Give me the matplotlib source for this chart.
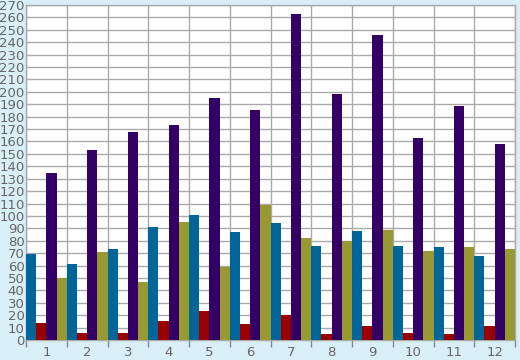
import matplotlib.pyplot as plt
import numpy as np

categories = ['1', '2', '3', '4', '5', '6', '7', '8', '9', '10', '11', '12']
blue = [69, 61, 73, 91, 101, 87, 94, 76, 88, 76, 75, 68]
red = [14, 6, 6, 15, 23, 13, 20, 5, 11, 6, 5, 11]
purple = [135, 153, 168, 173, 195, 185, 263, 198, 246, 163, 189, 158]
olive = [50, 71, 47, 95, 59, 109, 82, 80, 89, 72, 75, 73]

series = [blue, red, purple, olive]
colors = ['#006699', '#990000', '#330066', '#999933']

fig = plt.figure(figsize=(5.2, 3.6), dpi=100, facecolor='#d9eff7')
ax = fig.add_axes([26 / 520, 20 / 360, 489 / 520, 335 / 360])
ax.set_facecolor('white')

x = np.arange(len(categories))
w = 0.25
for k, (vals, c) in enumerate(zip(series, colors)):
    ax.bar(x - 0.375 + k * w, vals, width=w, color=c, zorder=3, linewidth=0)

ax.set_xlim(-0.5, len(categories) - 0.5)
ax.set_ylim(0, 270)
ax.set_yticks(np.arange(0, 271, 10))
ax.set_xticks(x)
ax.set_xticklabels(categories)
ax.set_xticks(np.arange(-0.5, len(categories), 1), minor=True)

ax.grid(True, axis='y', color='#aaaaaa', linewidth=1, zorder=0)
ax.grid(True, axis='x', which='minor', color='#aaaaaa', linewidth=1, zorder=0)

ax.tick_params(axis='y', length=0, pad=1, labelsize=9.5, labelcolor='#666666')
ax.tick_params(axis='x', which='major', length=0, pad=4, labelsize=9.5, labelcolor='#666666')
ax.tick_params(axis='x', which='minor', length=5, color='#888888', width=1)

for s in ax.spines.values():
    s.set_color('#aaaaaa')
    s.set_linewidth(1)

fig.savefig('out.png', dpi=100, facecolor=fig.get_facecolor())
